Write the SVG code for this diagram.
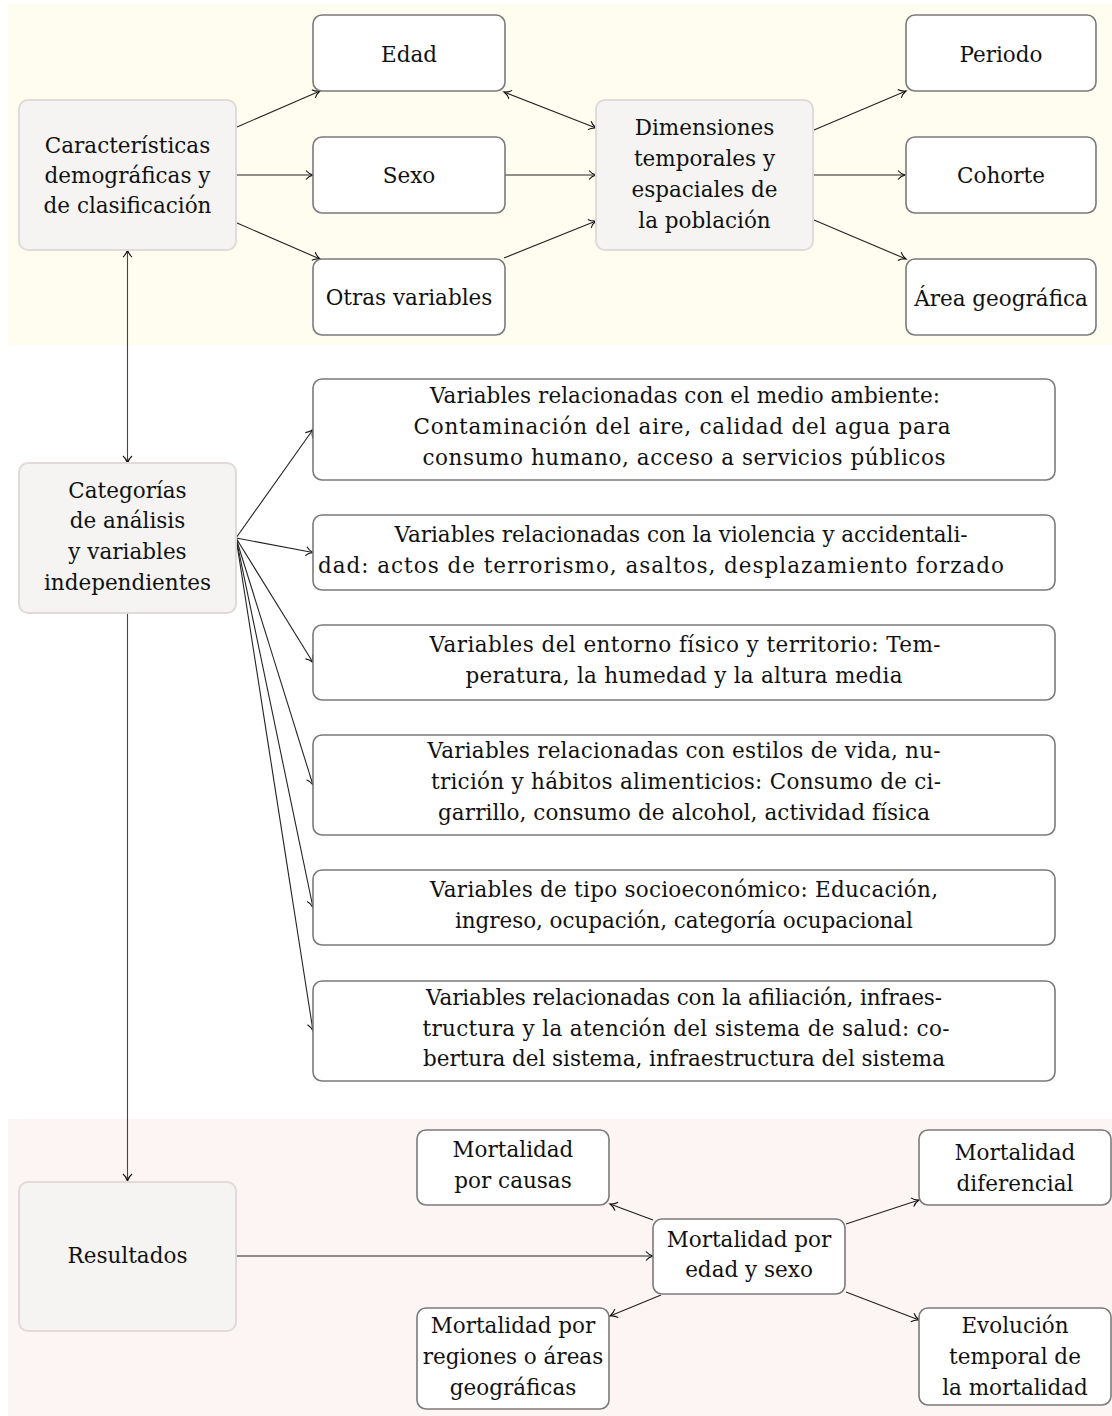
<svg xmlns="http://www.w3.org/2000/svg" width="1112" height="1416" viewBox="0 0 1112 1416">
<style>
text{font-family:"DejaVu Serif","Liberation Serif","Noto Serif",serif;font-size:21.5px;fill:#111;text-anchor:middle}
.g{fill:#f5f4f3;stroke:#e2d9d9;stroke-width:2}
.w{fill:#fff;stroke:#7a7a7a;stroke-width:1.6}
.c{fill:none;stroke:#222;stroke-width:1.1}
.v{fill:none;stroke:#444;stroke-width:1.1}
</style>
<defs>
<marker id="arr" viewBox="-10 -6 12 12" refX="0" refY="0" markerWidth="12" markerHeight="12" orient="auto-start-reverse" markerUnits="userSpaceOnUse">
<path d="M-7,-4.5 C-5,-2 -2,-0.6 0,0 C-2,0.6 -5,2 -7,4.5" fill="none" stroke="#111" stroke-width="1.1"/>
</marker>
</defs>
<rect x="8" y="4" width="1104" height="341" fill="#fffcf0"/>
<rect x="8" y="1119" width="1104" height="297" fill="#fdf4f4"/>

<g id="connectors">
<line class="c" x1="237" y1="127" x2="320" y2="91" marker-end="url(#arr)"/>
<line class="c" x1="237" y1="175" x2="313" y2="175" marker-end="url(#arr)"/>
<line class="c" x1="237" y1="223" x2="320" y2="259" marker-end="url(#arr)"/>
<line class="c" x1="504" y1="92" x2="596" y2="128" marker-start="url(#arr)" marker-end="url(#arr)"/>
<line class="c" x1="505" y1="175" x2="596" y2="175" marker-end="url(#arr)"/>
<line class="c" x1="504" y1="258" x2="596" y2="221" marker-end="url(#arr)"/>
<line class="c" x1="814" y1="130" x2="906" y2="91" marker-end="url(#arr)"/>
<line class="c" x1="814" y1="175" x2="905" y2="175" marker-end="url(#arr)"/>
<line class="c" x1="814" y1="220" x2="906" y2="259" marker-end="url(#arr)"/>
<line class="v" x1="127.5" y1="250" x2="127.5" y2="463" marker-start="url(#arr)" marker-end="url(#arr)"/>
<line class="v" x1="127.5" y1="613" x2="127.5" y2="1181" marker-end="url(#arr)"/>
<line class="c" x1="236" y1="538" x2="313" y2="429.5" marker-end="url(#arr)"/>
<line class="c" x1="236" y1="538" x2="313" y2="552.5" marker-end="url(#arr)"/>
<line class="c" x1="236" y1="538" x2="313" y2="662.5" marker-end="url(#arr)"/>
<line class="c" x1="236" y1="538" x2="313" y2="785" marker-end="url(#arr)"/>
<line class="c" x1="236" y1="538" x2="313" y2="907.5" marker-end="url(#arr)"/>
<line class="c" x1="236" y1="538" x2="313" y2="1031" marker-end="url(#arr)"/>
<line class="c" x1="237" y1="1256" x2="653" y2="1256" marker-end="url(#arr)"/>
<line class="c" x1="653" y1="1220" x2="610" y2="1204" marker-end="url(#arr)"/>
<line class="c" x1="661" y1="1295" x2="610" y2="1316" marker-end="url(#arr)"/>
<line class="c" x1="846" y1="1224" x2="919" y2="1200" marker-end="url(#arr)"/>
<line class="c" x1="846" y1="1292" x2="919" y2="1320" marker-end="url(#arr)"/>
</g>

<g id="caracteristicas">
<rect class="g" x="19" y="100" width="217" height="150" rx="9"/>
<text x="127.5" y="153">Características</text>
<text x="127.5" y="183">demográficas y</text>
<text x="127.5" y="213">de clasificación</text>
</g>
<g id="edad">
<rect class="w" x="313" y="15" width="192" height="76" rx="9"/>
<text x="409" y="62">Edad</text>
</g>
<g id="sexo">
<rect class="w" x="313" y="137" width="192" height="76" rx="9"/>
<text x="409" y="183">Sexo</text>
</g>
<g id="otras">
<rect class="w" x="313" y="259" width="192" height="76" rx="9"/>
<text x="409" y="305">Otras variables</text>
</g>
<g id="dimensiones">
<rect class="g" x="596" y="100" width="217" height="150" rx="9"/>
<text x="704.5" y="135">Dimensiones</text>
<text x="704.5" y="166">temporales y</text>
<text x="704.5" y="197">espaciales de</text>
<text x="704.5" y="228">la población</text>
</g>
<g id="periodo">
<rect class="w" x="906" y="15" width="190" height="76" rx="9"/>
<text x="1001" y="62">Periodo</text>
</g>
<g id="cohorte">
<rect class="w" x="906" y="137" width="190" height="76" rx="9"/>
<text x="1001" y="183">Cohorte</text>
</g>
<g id="area">
<rect class="w" x="906" y="259" width="190" height="76" rx="9"/>
<text x="1001" y="306">Área geográfica</text>
</g>

<g id="categorias">
<rect class="g" x="19" y="463" width="217" height="150" rx="9"/>
<text x="127.5" y="498">Categorías</text>
<text x="127.5" y="528">de análisis</text>
<text x="127.5" y="559">y variables</text>
<text x="127.5" y="590">independientes</text>
</g>
<g id="v-ambiente">
<rect class="w" x="313" y="379" width="742" height="101" rx="9"/>
<text x="685" y="403" textLength="510">Variables relacionadas con el medio ambiente:</text>
<text x="682" y="434" textLength="537">Contaminación del aire, calidad del agua para</text>
<text x="684" y="465" textLength="523">consumo humano, acceso a servicios públicos</text>
</g>
<g id="v-violencia">
<rect class="w" x="313" y="515" width="742" height="75" rx="9"/>
<text x="681" y="542" textLength="573">Variables relacionadas con la violencia y accidentali-</text>
<text x="661" y="573" textLength="686">dad: actos de terrorismo, asaltos, desplazamiento forzado</text>
</g>
<g id="v-entorno">
<rect class="w" x="313" y="625" width="742" height="75" rx="9"/>
<text x="685" y="652" textLength="511">Variables del entorno físico y territorio: Tem-</text>
<text x="684" y="683" textLength="437">peratura, la humedad y la altura media</text>
</g>
<g id="v-estilos">
<rect class="w" x="313" y="735" width="742" height="100" rx="9"/>
<text x="684" y="758" textLength="513">Variables relacionadas con estilos de vida, nu-</text>
<text x="686" y="789" textLength="510">trición y hábitos alimenticios: Consumo de ci-</text>
<text x="684" y="820" textLength="492">garrillo, consumo de alcohol, actividad física</text>
</g>
<g id="v-socio">
<rect class="w" x="313" y="870" width="742" height="75" rx="9"/>
<text x="684" y="897" textLength="508">Variables de tipo socioeconómico: Educación,</text>
<text x="684" y="928" textLength="458">ingreso, ocupación, categoría ocupacional</text>
</g>
<g id="v-salud">
<rect class="w" x="313" y="981" width="742" height="100" rx="9"/>
<text x="684" y="1005" textLength="516">Variables relacionadas con la afiliación, infraes-</text>
<text x="686" y="1036" textLength="527">tructura y la atención del sistema de salud: co-</text>
<text x="684" y="1066" textLength="522">bertura del sistema, infraestructura del sistema</text>
</g>

<g id="resultados">
<rect class="g" x="19" y="1182" width="217" height="149" rx="9"/>
<text x="127.5" y="1263">Resultados</text>
</g>
<g id="causas">
<rect class="w" x="417" y="1130" width="192" height="75" rx="9"/>
<text x="513" y="1157">Mortalidad</text>
<text x="513" y="1188">por causas</text>
</g>
<g id="regiones">
<rect class="w" x="417" y="1308" width="192" height="101" rx="9"/>
<text x="513" y="1333">Mortalidad por</text>
<text x="513" y="1364">regiones o áreas</text>
<text x="513" y="1395">geográficas</text>
</g>
<g id="edadsexo">
<rect class="w" x="653" y="1219" width="192" height="75" rx="9"/>
<text x="749" y="1247">Mortalidad por</text>
<text x="749" y="1277">edad y sexo</text>
</g>
<g id="diferencial">
<rect class="w" x="919" y="1130" width="192" height="75" rx="9"/>
<text x="1015" y="1160">Mortalidad</text>
<text x="1015" y="1191">diferencial</text>
</g>
<g id="evolucion">
<rect class="w" x="919" y="1308" width="192" height="97" rx="9"/>
<text x="1015" y="1333">Evolución</text>
<text x="1015" y="1364">temporal de</text>
<text x="1015" y="1395">la mortalidad</text>
</g>
</svg>
